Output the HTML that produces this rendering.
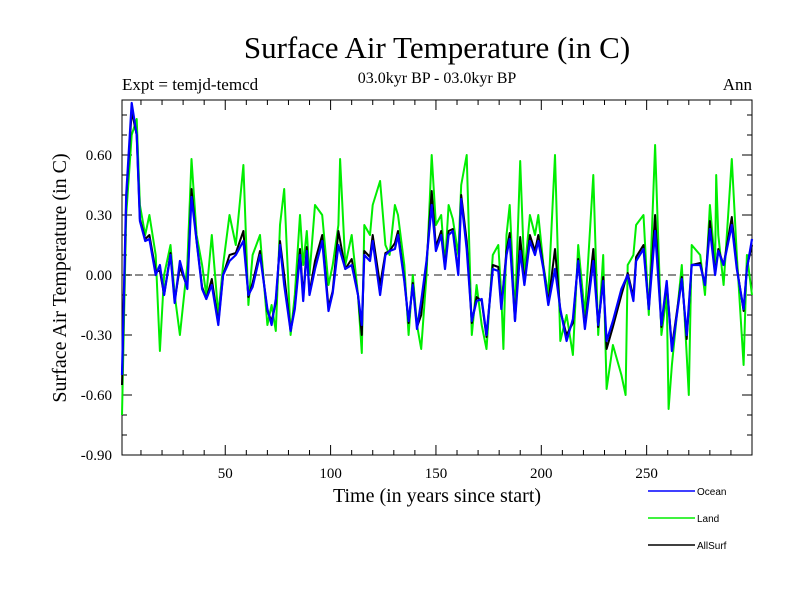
<!DOCTYPE html>
<html><head><meta charset="utf-8"><style>
body{margin:0;background:#fff}
svg text{font-family:"Liberation Serif",serif}
</style></head><body>
<svg id="c" width="800" height="600" xmlns="http://www.w3.org/2000/svg">
<text x="437" y="58" font-size="31" text-anchor="middle">Surface Air Temperature (in C)</text>
<text x="122" y="90" font-size="17">Expt = temjd-temcd</text>
<text x="437" y="83" font-size="16" text-anchor="middle">03.0kyr BP - 03.0kyr BP</text>
<text x="752" y="90" font-size="17" text-anchor="end">Ann</text>
<text x="437" y="502" font-size="20" text-anchor="middle">Time (in years since start)</text>
<text transform="translate(66,278) rotate(-90)" font-size="20" text-anchor="middle">Surface Air Temperature (in C)</text>
<g id="axes"></g>
<g id="series"></g>
<g id="legend"></g>
</svg>
<script>
const oceanYears=[1,3,5.6,8,9.5,12,14,17,19,21,24,26,28.5,32,34,36.4,39,41,43.6,46.7,49,52,55,58.6,61,63,66.5,70,72,74,76,78,81,83,85.5,87,88.7,90,92.6,96,99,101,103.7,107,110,113,114.8,116,118.7,120,123.5,126,128,130.5,132,135,137,139,141,143,145.5,148,150,152.5,154.3,156,158,160.6,162,164.6,167,169.3,171.7,174,177,179.6,181,183.5,185,187.5,190,192,194.6,197,198.6,201,203.3,206.5,209,212,215,217.5,220.7,224.7,227,229.4,231,234,238,241,243.7,245,248.5,251,254,257,259.5,262,266.7,269,271.4,275.4,277.7,280,282.5,284,286.5,290.4,292.8,296,297.6,300];
const oceanValues=[-0.5,0.40,0.86,0.70,0.27,0.17,0.18,0.0,0.05,-0.10,0.10,-0.14,0.07,-0.07,0.39,0.17,-0.07,-0.12,-0.05,-0.25,0.0,0.07,0.10,0.17,-0.10,-0.06,0.10,-0.17,-0.25,-0.12,0.15,-0.05,-0.28,-0.17,0.10,-0.13,0.12,-0.10,0.03,0.17,-0.18,-0.09,0.15,0.03,0.05,-0.10,-0.25,0.10,0.07,0.17,-0.10,0.10,0.12,0.13,0.20,-0.03,-0.23,-0.05,-0.27,-0.13,0.07,0.35,0.12,0.20,0.03,0.20,0.22,0.0,0.38,0.13,-0.23,-0.13,-0.12,-0.30,0.03,0.02,-0.17,0.10,0.18,-0.23,0.12,-0.05,0.17,0.10,0.17,0.03,-0.15,0.03,-0.17,-0.33,-0.22,0.07,-0.27,0.07,-0.25,-0.03,-0.33,-0.23,-0.07,0.0,-0.13,0.07,0.13,-0.17,0.22,-0.25,-0.03,-0.38,-0.02,-0.30,0.05,0.05,-0.05,0.23,0.0,0.12,0.05,0.25,0.03,-0.17,0.03,0.18];
const landYears=[1,3,5.6,8,9.5,12,14,17,19,21,24,26,28.5,32,34,36.4,39,41,43.6,46.7,49,52,55,58.6,61,63,66.5,70,72,74,76,78,81,83,85.5,87,88.7,90,92.6,96,99,101,103.7,104.5,107,110,113,114.8,116,118.7,120,123.5,126,128,130.5,132,135,137,139,141,143,145.5,148,150,152.5,154.3,156,158,160.6,162,164.6,167,169.3,171.7,174,177,179.6,181,182,183.5,185,187.5,190,192,194.6,197,198.6,201,203.3,206.5,209,212,215,217.5,220.7,224.7,227,229.4,231,234,238,240,241,243.7,245,248.5,251,254,257,259.5,260.4,262,266.7,269,270,271.4,275.4,277.7,280,282.5,283,284,286.5,290.4,292.8,296,297.6,300];
const landValues=[-0.70,0.30,0.70,0.78,0.35,0.20,0.30,0.10,-0.38,0.00,0.15,-0.10,-0.30,0.05,0.58,0.20,0.05,-0.10,0.20,-0.20,0.05,0.30,0.15,0.55,-0.15,0.10,0.20,-0.25,-0.15,-0.28,0.25,0.43,-0.30,-0.10,0.30,0.05,0.22,0.00,0.35,0.30,-0.05,0.05,0.25,0.58,0.05,0.20,-0.10,-0.39,0.25,0.20,0.35,0.47,0.15,0.10,0.35,0.30,0.05,-0.30,0.00,-0.25,-0.37,0.00,0.60,0.25,0.30,0.05,0.35,0.28,0.10,0.45,0.60,-0.30,-0.05,-0.25,-0.37,0.10,0.15,-0.10,-0.37,0.20,0.35,-0.20,0.57,0.00,0.30,0.20,0.30,0.05,-0.10,0.60,-0.33,-0.20,-0.40,0.15,-0.20,0.50,-0.30,0.10,-0.57,-0.35,-0.50,-0.60,0.05,0.10,0.25,0.30,-0.20,0.65,-0.30,-0.10,-0.67,-0.45,0.05,-0.40,-0.60,0.15,0.10,-0.10,0.35,0.05,0.50,0.20,-0.05,0.58,0.10,-0.45,0.10,-0.10];
const allYears=oceanYears;
const allValues=[-0.55,0.38,0.82,0.70,0.28,0.18,0.20,0.02,0.02,-0.10,0.11,-0.13,0.04,-0.06,0.43,0.17,-0.06,-0.12,-0.02,-0.24,0.0,0.10,0.11,0.22,-0.11,-0.04,0.12,-0.18,-0.23,-0.14,0.17,0.0,-0.28,-0.16,0.13,-0.11,0.14,-0.09,0.07,0.20,-0.16,-0.08,0.22,0.03,0.08,-0.10,-0.30,0.12,0.09,0.20,-0.05,0.11,0.12,0.16,0.22,-0.02,-0.24,-0.04,-0.26,-0.20,0.06,0.42,0.14,0.22,0.04,0.22,0.23,0.01,0.40,0.17,-0.24,-0.11,-0.13,-0.31,0.05,0.04,-0.16,0.12,0.21,-0.23,0.19,-0.04,0.20,0.12,0.20,0.04,-0.14,0.13,-0.18,-0.30,-0.24,0.08,-0.26,0.13,-0.26,-0.01,-0.37,-0.26,-0.10,0.01,-0.11,0.09,0.15,-0.17,0.30,-0.26,-0.04,-0.36,-0.01,-0.32,0.05,0.06,-0.05,0.27,0.01,0.13,0.05,0.29,0.04,-0.18,0.04,0.15];
const xTicks=[50,100,150,200,250];
const yTicks=[0.6,0.3,0,-0.3,-0.6,-0.9];

const L=122,R=752,T=100,B=455;
const X=t=>L+(t-1)*(R-L)/299;
const Y=v=>275-v*200;
const NS='http://www.w3.org/2000/svg';
function mk(tag,attrs,parent){const e=document.createElementNS(NS,tag);for(const k in attrs)e.setAttribute(k,attrs[k]);parent.appendChild(e);return e;}
const ax=document.getElementById('axes');
const frame=mk('rect',{x:L,y:T,width:R-L,height:B-T,fill:'none',stroke:'#000','stroke-width':1},ax);


const zl=mk('line',{x1:L,x2:R,y1:Y(0),y2:Y(0),stroke:'#666','stroke-width':1.5,'stroke-dasharray':'8,5'},ax);


for(let t=10;t<=300;t+=10){const len=(t%50===0)?10:5;
 const tk=mk('path',{d:`M${X(t)},${B}v${-len}M${X(t)},${T}v${len}`,stroke:'#000','stroke-width':1},ax);
 
 }
for(let i=-9;i<=8;i++){const v=i/10;const len=(i%3===0)?10:5;
 const tk=mk('path',{d:`M${L},${Y(v)}h${len}M${R},${Y(v)}h${-len}`,stroke:'#000','stroke-width':1},ax);
 
 }
xTicks.forEach(t=>{const e=mk('text',{x:X(t),y:478,'font-size':15,'text-anchor':'middle'},ax);e.textContent=t;
 
 });
yTicks.forEach(v=>{const e=mk('text',{x:112,y:Y(v)+5,'font-size':15,'text-anchor':'end'},ax);e.textContent=v.toFixed(2);
 
 });
const sg=document.getElementById('series');
function line(xs,vs,col,w,name){const d=xs.map((t,i)=>(i?'L':'M')+X(t).toFixed(1)+','+Y(vs[i]).toFixed(1)).join('');
 const p=mk('path',{d:d,fill:'none',stroke:col,'stroke-width':w,'stroke-linejoin':'round'},sg);
 
 }
line(landYears,landValues,'#00ee00',2,'land-line');
line(allYears,allValues,'#000',2,'allsurf-line');
line(oceanYears,oceanValues,'#0000ff',2.2,'ocean-line');
const lg=document.getElementById('legend');
[['Ocean','#0000ff',491],['Land','#00ee00',518],['AllSurf','#000',545]].forEach(([n,c,y])=>{
 const l=mk('line',{x1:648,x2:695,y1:y,y2:y,stroke:c,'stroke-width':1.5},lg);
 
 
 const t=mk('text',{x:697,y:y+4,'font-size':10,style:'font-family:"Liberation Sans",sans-serif'},lg);t.textContent=n;
 
 });
</script>
</body></html>
